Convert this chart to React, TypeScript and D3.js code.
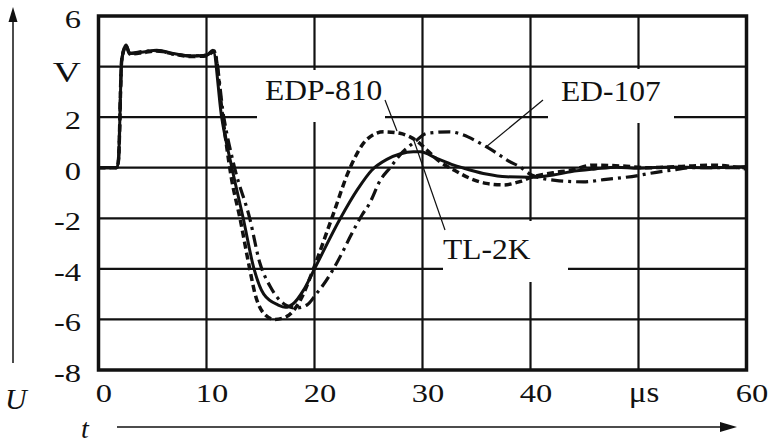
import React from 'react';
import * as d3 from 'd3';

const width = 770;
const height = 444;
const plot = {left: 98.5, right: 746.5, top: 16, bottom: 370};
const font = '"Liberation Serif", "Times New Roman", serif';

// axis ticks
const xTicks = [0, 10, 20, 30, 40, 50, 60];
const xTickLabels = ['0', '10', '20', '30', '40', '\u03bcs', '60'];
const yTicks = [6, 4, 2, 0, -2, -4, -6, -8];
const yTickLabels = ['6', 'V', '2', '0', '-2', '-4', '-6', '-8'];

// [t in us, U in V]
const tl2k: [number, number][] = [
  [0, 0], [1.7, 0], [1.85, 0.3], [2.15, 4.26], [2.55, 4.85], [2.9, 4.52], [4.15, 4.58], [5.4, 4.65],
  [6.9, 4.52], [8.5, 4.42], [10.0, 4.45], [10.6, 4.65], [11.4, 2.0], [12.35, 0], [13.4, -2], [14.4, -4],
  [15.3, -5.0], [16.65, -5.43], [17.3, -5.52], [18.0, -5.39], [19.0, -4.83], [20.0, -4.0], [22.4, -2.0],
  [24.0, -0.85], [25.3, -0.1], [26.7, 0.33], [27.9, 0.54], [29.15, 0.63], [29.8, 0.63], [31.3, 0.37],
  [32.9, 0.1], [34.4, -0.09], [35.9, -0.25], [37.8, -0.36], [40.0, -0.38], [42.1, -0.29], [43.7, -0.16],
  [46, -0.05], [48, 0.02], [50, -0.02], [53, 0.03], [56, 0], [60, 0.05]
];
const edp810: [number, number][] = [
  [0, 0], [1.7, 0], [1.85, 0.3], [2.15, 4.26], [2.55, 4.8], [2.9, 4.5], [4.15, 4.55], [5.4, 4.62],
  [6.9, 4.5], [8.5, 4.4], [10.0, 4.42], [10.7, 4.6], [11.5, 2.0], [12.3, -0.4], [13.1, -2], [14.0, -4],
  [14.5, -5], [15.3, -5.76], [16.3, -6.0], [17.4, -5.89], [18.7, -5.23], [19.9, -4.0], [21.6, -2],
  [23.3, 0], [24.8, 1.1], [26.4, 1.42], [27.9, 1.36], [28.8, 1.23], [29.5, 1.05], [30.4, 0.7],
  [31.6, 0.24], [32.9, -0.09], [34.4, -0.42], [35.9, -0.62], [37.5, -0.68], [39.0, -0.55], [40.2, -0.36],
  [42.1, -0.2], [43.7, -0.1], [45.8, 0.1], [48.3, 0.07], [51, 0.0], [54, 0.05], [57, 0.1], [60, -0.05]
];
const ed107: [number, number][] = [
  [0, 0], [1.7, 0], [1.85, 0.3], [2.15, 4.26], [2.55, 4.82], [2.9, 4.52], [4.15, 4.6], [5.4, 4.63],
  [6.9, 4.5], [8.5, 4.42], [10.0, 4.45], [10.7, 4.62], [11.6, 2.0], [12.6, 0], [14.0, -2], [14.95, -3.78],
  [15.9, -4.7], [16.5, -5.1], [17.4, -5.45], [18.3, -5.55], [19.3, -5.43], [20.2, -4.97], [20.8, -4.64],
  [21.7, -4.04], [22.7, -3.25], [23.3, -2.73], [24.4, -1.87], [25.1, -1.41], [26.1, -0.49], [27.0, 0],
  [27.9, 0.5], [29.3, 1.03], [30.4, 1.36], [32.5, 1.42], [33.8, 1.29], [34.9, 1.07], [35.9, 0.83],
  [36.9, 0.57], [37.9, 0.28], [39.0, 0.04], [40.1, -0.29], [42.3, -0.5], [44.9, -0.56], [47, -0.46],
  [48.75, -0.38], [49.8, -0.32], [51.1, -0.22], [53, -0.1], [55, 0], [60, 0]
];

const series = [
  {name: 'TL-2K', data: tl2k, dash: 'none', w: 3},
  {name: 'EDP-810', data: edp810, dash: '7 4', w: 3.5},
  {name: 'ED-107', data: ed107, dash: '12 5 3 5', w: 3.2},
];

// label boxes that blank the grid, and their leader lines
const labels = [
  {text: 'EDP-810', x: 265, y: 100, box: [257, 70, 385, 122], lead: [385, 100, 397, 131]},
  {text: 'ED-107', x: 561, y: 101, box: [548, 69, 674, 123], lead: [543, 100, 486, 147]},
  {text: 'TL-2K', x: 443, y: 259, box: [443, 221, 568, 282], lead: [413, 138, 445, 230]},
];

const xScale = d3.scaleLinear().domain([0, 60]).range([plot.left, plot.right]);
const yScale = d3.scaleLinear().domain([-8, 6]).range([plot.bottom, plot.top]);

const Txt = ({x, y, sx = 1, size, anchor = 'start', italic = false, children}: any) => (
  <text transform={`translate(${x},${y}) scale(${sx},1)`} fontSize={size} textAnchor={anchor}
    fontStyle={italic ? 'italic' : 'normal'} fontFamily={font} fill='#111'>{children}</text>
);

export default function App() {
  const line = d3.line<[number, number]>()
    .x(d => xScale(d[0]))
    .y(d => yScale(d[1]))
    .curve(d3.curveMonotoneX);

  return (
    <svg width={width} height={height} style={{position: 'absolute', left: 0, top: 0, background: '#fff'}}>
      {/* grid */}
      {xTicks.slice(1, -1).map(t => (
        <line key={'gx' + t} x1={xScale(t)} x2={xScale(t)} y1={plot.top} y2={plot.bottom} stroke='#111' strokeWidth={2.2} />
      ))}
      {yTicks.slice(1, -1).map(v => (
        <line key={'gy' + v} x1={plot.left} x2={plot.right} y1={yScale(v)} y2={yScale(v)} stroke='#111' strokeWidth={2.2} />
      ))}
      {labels.map(l => (
        <rect key={'b' + l.text} x={l.box[0]} y={l.box[1]} width={l.box[2] - l.box[0]} height={l.box[3] - l.box[1]} fill='#fff' />
      ))}
      <rect x={plot.left} y={plot.top} width={plot.right - plot.left} height={plot.bottom - plot.top}
        fill='none' stroke='#111' strokeWidth={3.5} />

      {/* curves */}
      {series.map(s => (
        <path key={s.name} d={line(s.data) || ''} fill='none' stroke='#111' strokeWidth={s.w}
          strokeDasharray={s.dash} strokeLinejoin='round' />
      ))}

      {/* labels */}
      {labels.map(l => (
        <g key={'l' + l.text}>
          <line x1={l.lead[0]} y1={l.lead[1]} x2={l.lead[2]} y2={l.lead[3]} stroke='#111' strokeWidth={1.2} />
          <Txt x={l.x} y={l.y} size={30} sx={1.05}>{l.text}</Txt>
        </g>
      ))}

      {/* tick labels */}
      {yTicks.map((v, i) => (
        <Txt key={'yl' + v} x={81} y={yScale(v) + (yTickLabels[i] === 'V' ? 15 : 12)}
          size={yTickLabels[i] === 'V' ? 30 : 25} sx={1.3} anchor='end'>{yTickLabels[i]}</Txt>
      ))}
      {xTicks.map((t, i) => (
        <Txt key={'xl' + t} x={xScale(t) + 5.5} y={402} size={xTickLabels[i] === '\u03bcs' ? 30 : 25}
          sx={xTickLabels[i] === '\u03bcs' ? 1.1 : 1.3} anchor='middle'>{xTickLabels[i]}</Txt>
      ))}

      {/* axis arrows */}
      <line x1={13} x2={13} y1={363} y2={20} stroke='#111' strokeWidth={1.5} />
      <path d='M13,7 L8.5,22 L17.5,22 Z' fill='#111' />
      <line x1={117} x2={722} y1={427} y2={427} stroke='#111' strokeWidth={1.5} />
      <path d='M737,427 L720,422 L720,432 Z' fill='#111' />
      <Txt x={5} y={409} size={30} italic>U</Txt>
      <Txt x={81} y={438} size={28} italic>t</Txt>
    </svg>
  );
}
